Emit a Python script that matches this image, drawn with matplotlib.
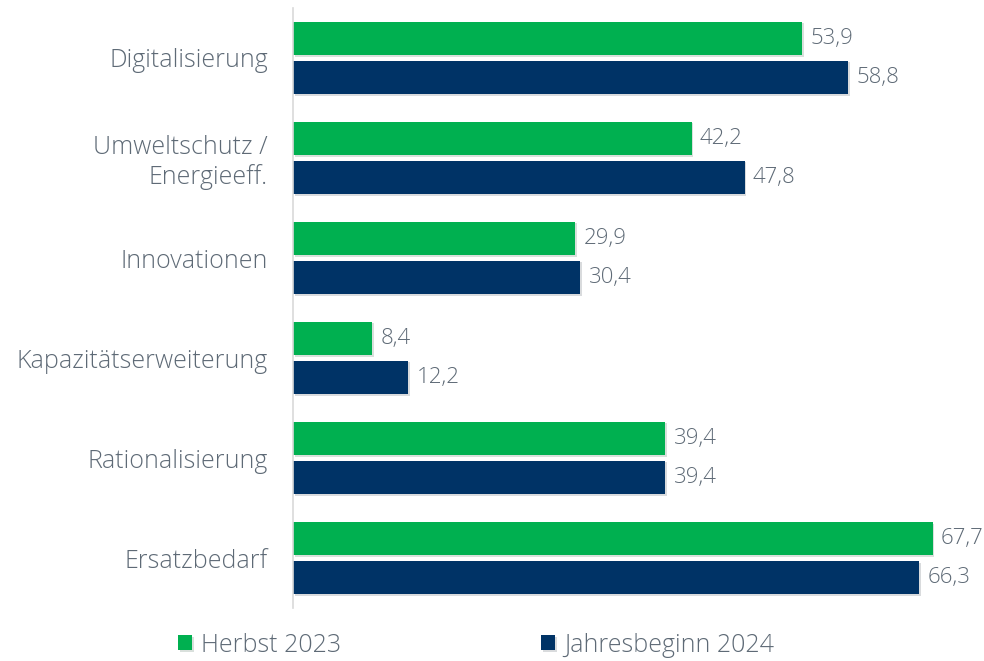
"""
Investitionsmotive: Herbst 2023 vs Jahresbeginn 2024 as horizontal bars.
"""
import matplotlib
matplotlib.use("Agg")
from matplotlib import pyplot as plt
from matplotlib import patheffects
import numpy as np


CATEGORIES = [
    "Digitalisierung",
    "Umweltschutz /\nEnergieeff.",
    "Innovationen",
    "Kapazitätserweiterung",
    "Rationalisierung",
    "Ersatzbedarf",
]
HERBST_2023 = [53.9, 42.2, 29.9, 8.4, 39.4, 67.7]
JAHRESBEGINN_2024 = [58.8, 47.8, 30.4, 12.2, 39.4, 66.3]
SERIES = ["Herbst 2023", "Jahresbeginn 2024"]

GREEN = "#00B050"
NAVY = "#003366"
TEXT = "#5E6A76"
AXIS = "#D9D9D9"


if __name__ == "__main__":
    plt.rcParams["font.family"] = ["Open Sans", "DejaVu Sans"]
    plt.rcParams["font.weight"] = "light"
    fig = plt.figure(figsize=(9.84, 6.61), dpi=100)
    ax = fig.add_axes([0.2978, 0.080, 0.672, 0.908])

    y = np.arange(len(CATEGORIES))
    height = 0.335
    offset = 0.195
    shadow = [patheffects.SimplePatchShadow(offset=(1.2, -1.2), alpha=0.15),
              patheffects.Normal()]

    for vals, color, off, label in [
        (HERBST_2023, GREEN, -offset, SERIES[0]),
        (JAHRESBEGINN_2024, NAVY, offset, SERIES[1]),
    ]:
        bars = ax.barh(y + off, vals, height=height, color=color, label=label)
        for b in bars:
            b.set_path_effects(shadow)
        for b, v in zip(bars, vals):
            ax.annotate(f"{v:.1f}".replace(".", ","),
                        xy=(b.get_width(), b.get_y() + b.get_height() / 2),
                        xytext=(6, 0), textcoords="offset points",
                        va="center", ha="left", fontsize=16, color=TEXT)

    ax.set_xlim(0, 70)
    ax.set_ylim(len(CATEGORIES) - 0.5, -0.5)
    ax.set_yticks(y)
    ax.set_yticklabels(CATEGORIES, fontsize=18, color=TEXT, linespacing=1.2)
    ax.tick_params(axis="y", length=0, pad=18)
    ax.set_xticks([])
    for side in ["top", "right", "bottom"]:
        ax.spines[side].set_visible(False)
    ax.spines["left"].set_color(AXIS)
    ax.spines["left"].set_linewidth(1.2)

    fig.legend(loc="center left", bbox_to_anchor=(0.181, 0.024), ncol=2,
               frameon=False, fontsize=18, labelcolor=TEXT,
               handlelength=0.56, handleheight=0.56, handletextpad=0.36,
               columnspacing=8.0, borderpad=0, borderaxespad=0)

    fig.savefig("out.png", dpi=100)
